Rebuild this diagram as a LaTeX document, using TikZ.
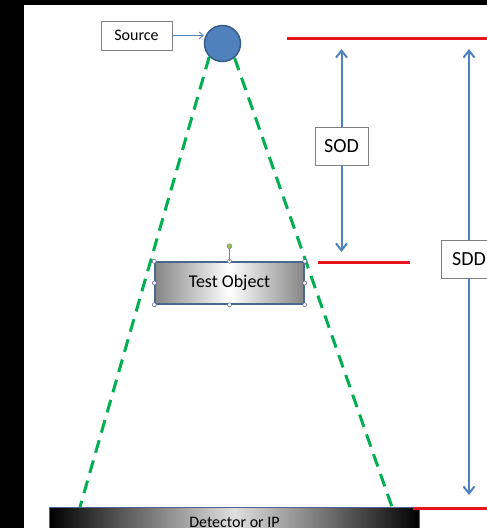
\documentclass[tikz,border=0pt]{standalone}
\usepackage{fontspec}
\setmainfont{Carlito}
\usetikzlibrary{arrows.meta}
\definecolor{srcblue}{HTML}{4F81BD}
\definecolor{srcedge}{HTML}{385D8A}
\definecolor{beamgreen}{HTML}{00B050}
\definecolor{lvlred}{HTML}{E8141B}
\definecolor{objedge}{HTML}{4A6790}
\definecolor{rotgreen}{HTML}{9BBB59}
\begin{document}
\begin{tikzpicture}[x=1pt,y=-1pt,
  dim/.style={draw=srcblue,line width=2pt,-{Straight Barb[length=7pt,width=11pt]}},
  lvl/.style={draw=lvlred,line width=3pt},
  beam/.style={draw=beamgreen,line width=3pt,dash pattern=on 13pt off 8pt},
  tag/.style={draw=gray,fill=white,line width=0.8pt,inner sep=0pt},
  handle/.style={circle,draw=gray!70!blue,fill=white,line width=0.5pt,inner sep=0pt,minimum size=4pt}]
  \useasboundingbox (0,0) rectangle (487,528);
  \fill[black] (0,0) rectangle (487,528);
  \fill[white] (24,5) rectangle (487,528);
  \clip (24,5) rectangle (487,528);
  % source and tube
  \node[tag,minimum width=71pt,minimum height=29pt,font=\fontsize{16}{18}\selectfont] (src) at (136.5,35.5) {Source};
  \node[circle,draw=srcedge,fill=srcblue,line width=1.5pt,minimum size=36pt,inner sep=0pt] (tube) at (222.5,43.5) {};
  \draw[srcblue,line width=0.8pt,-{Straight Barb[length=4pt,width=7pt]}] (src.east) -- (src.east -| tube.west);
  % object and detector
  \node[draw=objedge,line width=1.5pt,minimum width=149pt,minimum height=42pt,
        left color=gray!95,right color=gray!95,middle color=white,font=\fontsize{18}{20}\selectfont] (obj) at (229.5,283) {Test Object};
  \node[draw=objedge,line width=1pt,minimum width=370pt,minimum height=40pt,anchor=north west,
        left color=black,right color=black,middle color=gray!25] (det) at (49,507) {};
  \path (det.north) ++(0,20) node[anchor=base,font=\fontsize{16}{18}\selectfont] (dettxt) {Detector or IP};
  % beam
  \coordinate (bl) at (80,507); \coordinate (br) at (392,507);
  \draw[beam] (tube.225) -- (bl);
  \draw[beam] (tube.310) -- (br);
  % selection handles
  \foreach \a in {north west,north,north east,east,south east,south,south west,west}
    \node[handle] at (obj.\a) {};
  \path (obj.north) ++(0,-15) node[circle,fill=rotgreen,draw=gray,line width=0.4pt,inner sep=0pt,minimum size=5pt] (rot) {};
  \draw[gray,line width=0.5pt] (rot) -- (obj.north);
  % levels
  \coordinate (s1) at (287,38);  \coordinate (s2) at (500,38);
  \coordinate (o1) at (318,262); \coordinate (o2) at (410,262);
  \coordinate (d1) at (413,508); \coordinate (d2) at (500,508);
  \draw[lvl] (s1) -- (s2); \draw[lvl] (o1) -- (o2); \draw[lvl] (d1) -- (d2);
  % distances
  \node[tag,minimum width=53pt,minimum height=38pt,font=\fontsize{20}{22}\selectfont] (sod) at (341.5,146) {SOD};
  \node[tag,minimum width=56pt,minimum height=38pt,font=\fontsize{20}{22}\selectfont] (sdd) at (469,259) {SDD};
  \coordinate (sodtop) at (341.5,49); \coordinate (sodbot) at (341.5,252);
  \coordinate (sddtop) at (469,49);   \coordinate (sddbot) at (469,495);
  \draw[dim] (sod) -- (sodtop); \draw[dim] (sod) -- (sodbot);
  \draw[dim] (sdd) -- (sddtop); \draw[dim] (sdd) -- (sddbot);
\end{tikzpicture}
\end{document}
